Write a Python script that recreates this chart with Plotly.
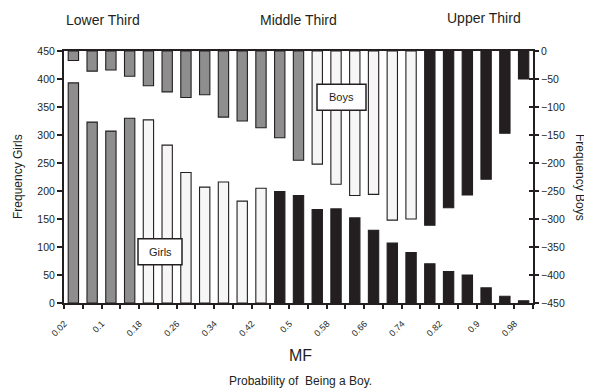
import plotly.graph_objects as go

categories = ["0.02","0.06","0.1","0.14","0.18","0.22","0.26","0.3","0.34","0.38","0.42","0.46","0.5",
              "0.54","0.58","0.62","0.66","0.7","0.74","0.78","0.82","0.86","0.9","0.94","0.98"]
girls = [393,323,307,330,327,282,233,207,216,182,205,199,192,167,168,152,130,107,90,70,56,50,27,12,4]
boys = [17,36,34,45,62,73,83,78,118,125,137,155,195,202,238,258,256,302,300,311,280,257,229,147,50]
# third groups (0 = lower, 1 = middle, 2 = upper)
girls_group = [0]*4 + [1]*7 + [2]*14
boys_group = [0]*13 + [1]*6 + [2]*6
tick_labels = categories[::2]

palette = ["#8e8e8e", "#f6f6f6", "#231f20"]
FONT = "Liberation Sans, Arial, sans-serif"
INK = "#231f20"

# page body has an 8px margin; plot area in page pixels: x 64..533, y 50.7..303.3
PL, PR, PT, PB = 64, 533, 50.7, 303.3
def px(x):
    return (x - PL) / (PR - PL)
def py(y):
    return (PB - y) / (PB - PT)

idx = list(range(len(categories)))

fig = go.Figure()
fig.add_trace(go.Bar(x=idx, y=girls, marker=dict(color=[palette[g] for g in girls_group],
                     line=dict(color=INK, width=1.1)), width=0.55, yaxis="y", name="Girls",
                     showlegend=False))
fig.add_trace(go.Bar(x=idx, y=[-b for b in boys], marker=dict(color=[palette[g] for g in boys_group],
                     line=dict(color=INK, width=1.1)), width=0.55, yaxis="y2", name="Boys",
                     showlegend=False))
fig.add_trace(go.Scatter(x=[0], y=[-1], yaxis="y3", mode="markers", marker=dict(opacity=0),
                         showlegend=False, hoverinfo="skip"))

W, H = 584, 384
fig.update_layout(
    width=W, height=H,
    margin=dict(l=PL - 8, r=W - (PR - 8), t=PT - 8, b=H - (PB - 8), autoexpand=False),
    paper_bgcolor="white", plot_bgcolor="white",
    barmode="overlay",
    font=dict(family=FONT, color=INK),
    xaxis=dict(range=[-0.5, 24.5], tickvals=idx[::2], ticktext=tick_labels, tickangle=-45,
               ticks="", ticklen=0, showline=True, linecolor=INK, linewidth=2, mirror=True,
               showgrid=False, zeroline=False, tickfont=dict(size=9, color=INK),
               ticklabelstandoff=10, ticklabelshift=-9,
               minor=dict(tickvals=[i - 0.5 for i in range(len(categories) + 1)], ticks="outside",
                          ticklen=4, tickcolor=INK, tickwidth=1.5)),
    yaxis=dict(range=[0, 450], tickvals=list(range(0, 451, 50)), ticks="outside", ticklen=5,
               tickcolor=INK, tickwidth=1.5, showline=True, linecolor=INK, linewidth=2,
               showgrid=False, zeroline=False, tickfont=dict(size=10.5, color=INK)),
    yaxis2=dict(range=[-450, 0], tickvals=list(range(-450, 1, 50)), overlaying="y", side="right",
                ticks="outside", ticklen=4, tickcolor=INK, tickwidth=1.5, showline=True,
                linecolor=INK, linewidth=2, showgrid=False, zeroline=False,
                tickfont=dict(size=10.5, color=INK)),
    yaxis3=dict(range=[-450, 0], tickvals=list(range(-450, 1, 50)), overlaying="y", side="right",
                ticks="inside", ticklen=4, tickcolor=INK, tickwidth=1.5, showticklabels=False,
                showline=False, showgrid=False, zeroline=False),
)

ann = [
    dict(text="Lower Third", x=103, y=20, size=14),
    dict(text="Middle Third", x=298, y=20, size=14),
    dict(text="Upper Third", x=484, y=18, size=14),
    dict(text="MF", x=300, y=356, size=16),
    dict(text="Probability of  Being a Boy.", x=300, y=381, size=12),
]
for a in ann:
    fig.add_annotation(text=a["text"], xref="paper", yref="paper", x=px(a["x"]), y=py(a["y"]),
                       xanchor="center", yanchor="middle", showarrow=False,
                       font=dict(size=a["size"], family=FONT, color=INK))

fig.add_annotation(text="Frequency Girls", xref="paper", yref="paper", x=px(18), y=py(177),
                   textangle=-90, showarrow=False, xanchor="center", yanchor="middle",
                   font=dict(size=12, family=FONT, color=INK))
fig.add_annotation(text="Frequency Boys", xref="paper", yref="paper", x=px(580), y=py(177),
                   textangle=90, showarrow=False, xanchor="center", yanchor="middle",
                   font=dict(size=12, family=FONT, color=INK))

for label, cx, cy, w, h in [("Boys", 341.5, 97, 49, 26), ("Girls", 160, 252, 44, 26)]:
    fig.add_shape(type="rect", xref="paper", yref="paper",
                  x0=px(cx - w / 2), x1=px(cx + w / 2), y0=py(cy + h / 2), y1=py(cy - h / 2),
                  fillcolor="white", line=dict(color=INK, width=1.5), layer="above")
    fig.add_annotation(text=label, xref="paper", yref="paper", x=px(cx), y=py(cy),
                       showarrow=False, xanchor="center", yanchor="middle",
                       font=dict(size=11, family=FONT, color=INK))

fig.write_html("out.html")
